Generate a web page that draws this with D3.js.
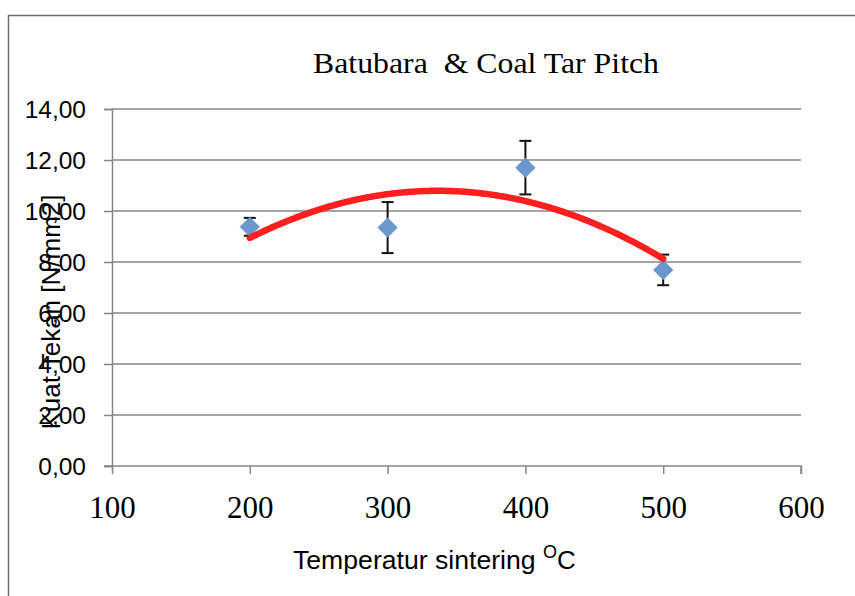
<!DOCTYPE html>
<html>
<head>
<meta charset="utf-8">
<script src="https://cdn.jsdelivr.net/npm/d3@7"></script>
<style>
  html, body { margin: 0; padding: 0; background: #fff; }
  svg { display: block; }
  text { white-space: pre; }
</style>
</head>
<body>
<svg id="chart" width="855" height="596"></svg>
<script>
// ---- data ----
const titleText = "Batubara  & Coal Tar Pitch";
const xTitle = "Temperatur sintering ";
const xTitleSup = "O";
const xTitleEnd = "C";
const yTitle = "Kuat Tekan [N/mm2]";
const temperatures = [200, 300, 400, 500];
const strengths = [9.38, 9.35, 11.70, 7.69];
const errors = [0.35, 1.0, 1.05, 0.6];
const xTickValues = [100, 200, 300, 400, 500, 600];
const yTickValues = [0, 2, 4, 6, 8, 10, 12, 14];

// ---- layout ----
const svg = d3.select("#chart");
const W = 855, H = 596;
const plot = { left: 112, right: 801, top: 109, bottom: 466 };
const x = d3.scaleLinear().domain([100, 600]).range([plot.left, plot.right]);
const y = d3.scaleLinear().domain([0, 14]).range([plot.bottom, plot.top]);
const gridColor = "#868686";
const sansFont = "'Liberation Sans', Arial, sans-serif";
const serifFont = "'Liberation Serif', 'Times New Roman', serif";

// outer frame (left and top edges visible)
svg.append("path")
  .attr("d", `M8.5,${H} L8.5,15.5 L${W},15.5`)
  .attr("fill", "none").attr("stroke", "#6e6e6e").attr("stroke-width", 1.5);

// gridlines
svg.append("g").selectAll("line").data(yTickValues.filter(v => v > 0)).join("line")
  .attr("x1", plot.left).attr("x2", plot.right)
  .attr("y1", d => y(d)).attr("y2", d => y(d))
  .attr("stroke", gridColor).attr("stroke-width", 1.5);

// y axis
const yAxis = d3.axisLeft(y).tickValues(yTickValues).tickSize(8).tickPadding(18)
  .tickFormat(d => d3.format(".2f")(d).replace(".", ","));
const gy = svg.append("g").attr("transform", `translate(${plot.left},0)`).call(yAxis);
gy.select(".domain").attr("stroke", gridColor).attr("stroke-width", 1.5);
gy.selectAll(".tick line").attr("stroke", gridColor).attr("stroke-width", 1.5);
gy.selectAll(".tick text")
  .attr("font-family", sansFont)
  .attr("font-size", 24.5).attr("fill", "#000").attr("dy", "0.36em");

// x axis
const xAxis = d3.axisBottom(x).tickValues(xTickValues).tickSize(8).tickPadding(22)
  .tickFormat(d3.format("d"));
const gx = svg.append("g").attr("transform", `translate(0,${plot.bottom})`).call(xAxis);
gx.select(".domain").attr("stroke", gridColor).attr("stroke-width", 1.5)
  .attr("d", `M${plot.left - 8},0H${plot.right}V8`);
gx.selectAll(".tick line").attr("stroke", gridColor).attr("stroke-width", 1.5);
gx.selectAll(".tick text")
  .attr("font-family", serifFont)
  .attr("font-size", 31).attr("fill", "#000").attr("dy", "0.71em");

// data
const pts = temperatures.map((t, i) => ({ t, v: strengths[i], e: errors[i] }));

// error bars
const eb = svg.append("g").attr("stroke", "#111").attr("stroke-width", 2);
pts.forEach(p => {
  eb.append("line").attr("x1", x(p.t)).attr("x2", x(p.t))
    .attr("y1", y(p.v + p.e)).attr("y2", y(p.v - p.e));
  [p.v + p.e, p.v - p.e].forEach(val => {
    eb.append("line").attr("x1", x(p.t) - 6).attr("x2", x(p.t) + 6)
      .attr("y1", y(val)).attr("y2", y(val));
  });
});

// diamonds
svg.append("g").selectAll("path").data(pts).join("path")
  .attr("d", d3.symbol(d3.symbolDiamond2, 260)())
  .attr("transform", d => `translate(${x(d.t)},${y(d.v)})`)
  .attr("fill", "#6a97cc");

// polynomial (order 2) least-squares trendline of the data
function fitQuad(xs, ys) {
  const n = xs.length;
  let s = [0, 0, 0, 0, 0], r = [0, 0, 0];
  for (let i = 0; i < n; i++) {
    const u = xs[i];
    for (let k = 0; k <= 4; k++) s[k] += Math.pow(u, k);
    for (let k = 0; k <= 2; k++) r[k] += ys[i] * Math.pow(u, k);
  }
  const A = [[s[0], s[1], s[2], r[0]], [s[1], s[2], s[3], r[1]], [s[2], s[3], s[4], r[2]]];
  for (let c = 0; c < 3; c++) {
    for (let rr = c + 1; rr < 3; rr++) {
      const f = A[rr][c] / A[c][c];
      for (let k = c; k < 4; k++) A[rr][k] -= f * A[c][k];
    }
  }
  const sol = [0, 0, 0];
  for (let c = 2; c >= 0; c--) {
    let sum = A[c][3];
    for (let k = c + 1; k < 3; k++) sum -= A[c][k] * sol[k];
    sol[c] = sum / A[c][c];
  }
  return sol;
}
const us = temperatures.map(t => t / 100);
const coef = fitQuad(us, strengths);
const trend = d3.range(temperatures[0], temperatures[temperatures.length - 1] + 0.001, 2)
  .map(t => { const u = t / 100; return [t, coef[0] + coef[1] * u + coef[2] * u * u]; });
svg.append("path").datum(trend)
  .attr("d", d3.line().x(d => x(d[0])).y(d => y(d[1])).curve(d3.curveMonotoneX))
  .attr("fill", "none").attr("stroke", "#ff1f1f").attr("stroke-width", 6.5)
  .attr("stroke-linecap", "round");

// title
svg.append("text").attr("x", 313).attr("y", 73)
  .attr("font-family", serifFont)
  .attr("font-size", 30).attr("fill", "#000")
  .attr("textLength", 346).attr("lengthAdjust", "spacingAndGlyphs")
  .text(titleText);

// x title with superscript
const xt = svg.append("text").attr("x", 293).attr("y", 569)
  .attr("font-family", sansFont)
  .attr("font-size", 26).attr("fill", "#000");
xt.append("tspan").attr("textLength", 250).attr("lengthAdjust", "spacingAndGlyphs").text(xTitle);
xt.append("tspan").attr("font-size", 18).attr("dy", -11).text(xTitleSup);
xt.append("tspan").attr("dy", 11).text(xTitleEnd);

// y title (rotated)
svg.append("text")
  .attr("transform", "translate(60,312) rotate(-90)")
  .attr("text-anchor", "middle")
  .attr("font-family", sansFont)
  .attr("font-size", 26).attr("fill", "#000")
  .attr("textLength", 235).attr("lengthAdjust", "spacingAndGlyphs")
  .text(yTitle);
</script>
</body>
</html>
